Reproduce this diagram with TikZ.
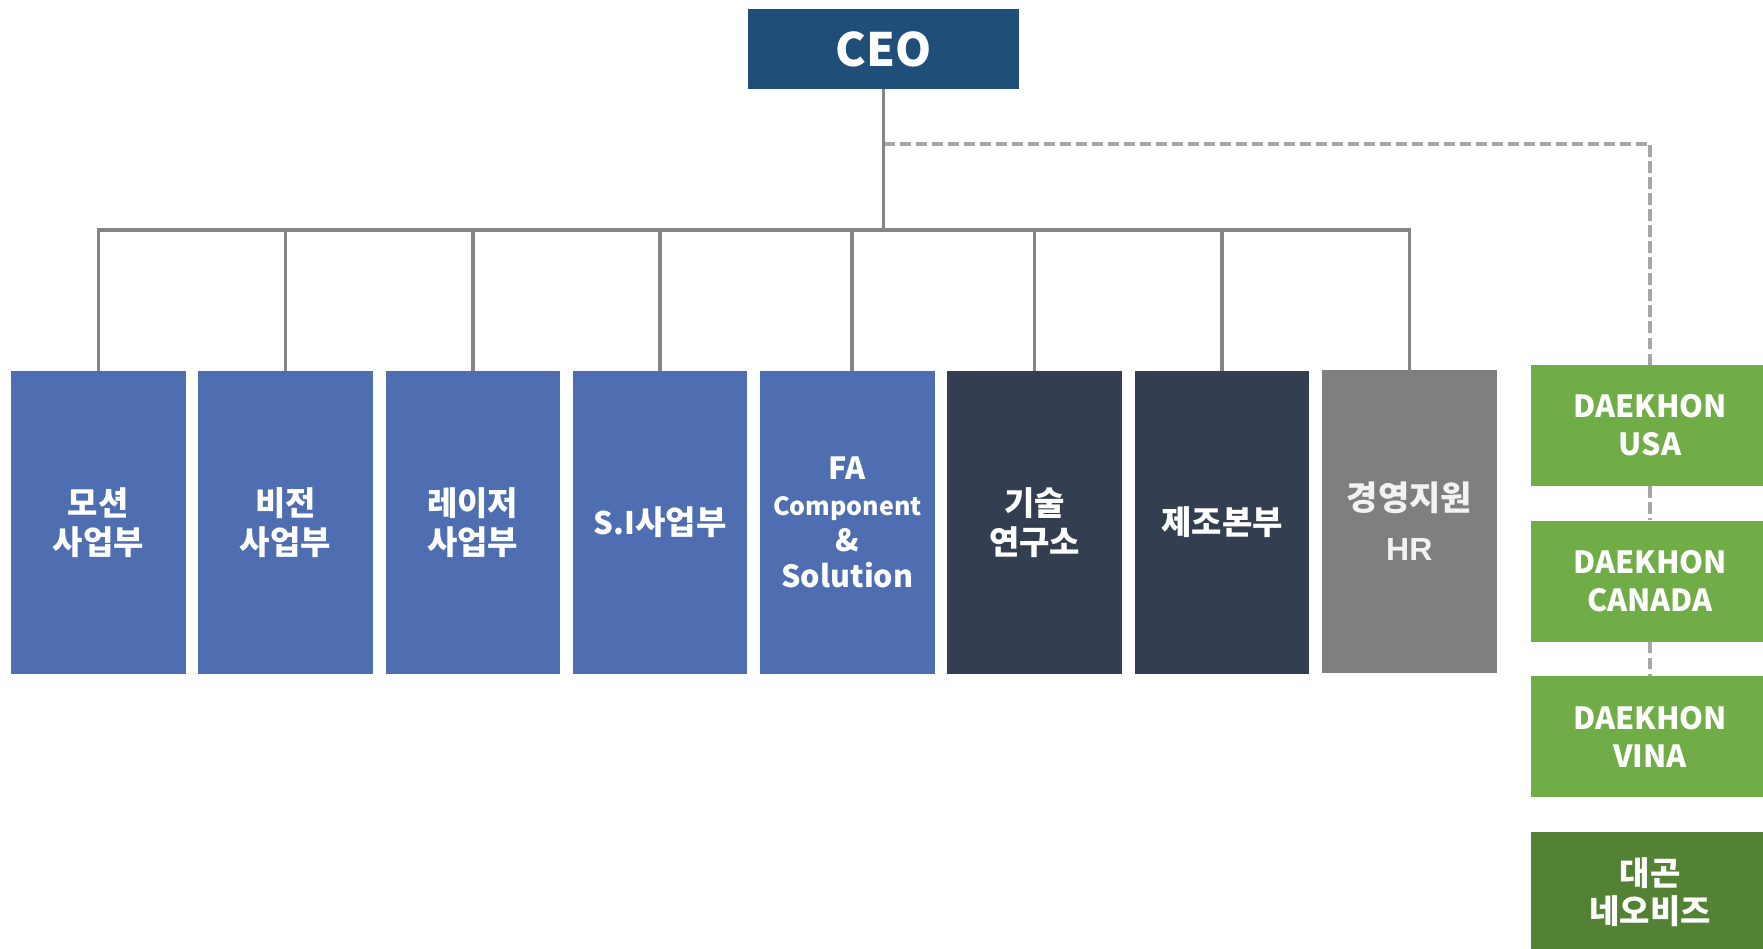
\documentclass[tikz,border=0pt]{standalone}
\usepackage{fontspec}
\setmainfont{Noto Sans CJK KR}
\newfontfamily\arialb{Liberation Sans Bold}
\definecolor{ceoc}{HTML}{1F4E79}
\definecolor{bluec}{HTML}{4E6EB1}
\definecolor{darkc}{HTML}{333F50}
\definecolor{grayc}{HTML}{7F7F7F}
\definecolor{greenc}{HTML}{70AD47}
\definecolor{dgreenc}{HTML}{548235}
\definecolor{linec}{HTML}{858585}
\definecolor{dashc}{HTML}{A6A6A6}
\definecolor{offwhite}{HTML}{F2F2F2}
\begin{document}
\begin{tikzpicture}[x=1pt,y=-1pt,
  box/.style={rectangle, inner sep=0pt, text=white, align=center},
  dept/.style={box, minimum width=174.5pt, minimum height=303pt, font=\bfseries\fontsize{33}{39}\selectfont},
  sub/.style={box, minimum width=238pt, minimum height=121pt, font=\bfseries\fontsize{30.5}{38}\selectfont},
  conn/.style={draw=linec, line width=3.5pt},
  dconn/.style={draw=dashc, line width=3.5pt, dash pattern=on 11.5pt off 4.5pt}]
\useasboundingbox (0,0) rectangle (1763,949);
\clip (0,0) rectangle (1763,949);
\fill[white] (0,0) rectangle (1763,949);
% CEO
\node[box, fill=ceoc, minimum width=271pt, minimum height=80pt, font=\bfseries\fontsize{46}{50}\selectfont] (ceo) at (883.5,49) {CEO};
% departments
\node[dept, fill=bluec] (d1) at (98.25,522.5) {모션\\사업부};
\node[dept, fill=bluec] (d2) at (285.5,522.5) {비전\\사업부};
\node[dept, fill=bluec] (d3) at (472.8,522.5) {레이저\\사업부};
\node[dept, fill=bluec] (d4) at (660.1,522.5) {{\fontsize{31}{39}\selectfont S.I}사업부};
\node[dept, fill=bluec, font=\bfseries\fontsize{30.5}{36}\selectfont] (d5) at (847.4,522.5) {FA\\{\fontsize{25}{36}\selectfont Component}\\\&\\Solution};
\node[dept, fill=darkc] (d6) at (1034.7,522.5) {기술\\연구소};
\node[dept, fill=darkc] (d7) at (1222,522.5) {제조본부};
\node[dept, fill=grayc, text=offwhite, font=\bfseries\fontsize{34}{50}\selectfont] (d8) at (1409.3,521.5) {경영지원\\{\arialb\fontsize{32}{50}\selectfont HR}};
% subsidiaries
\node[sub, fill=greenc] (g1) at (1650,425.5) {DAEKHON\\USA};
\node[sub, fill=greenc] (g2) at (1650,581) {DAEKHON\\CANADA};
\node[sub, fill=greenc] (g3) at (1650,736.5) {DAEKHON\\VINA};
\node[sub, fill=dgreenc, font=\bfseries\fontsize{33}{38}\selectfont] (g4) at (1650,892.5) {대곤\\네오비즈};
% connectors
\coordinate (bus) at (883.5,230);
\coordinate (dstart) at (883.5,144);
\draw[dconn] (dstart) -| (g1.north);
\draw[dconn] (g1.south) -- (g2.north);
\draw[dconn] (g2.south) -- (g3.north);
\draw[conn] (ceo.south) -- (bus);
\foreach \b in {d1,d2,d3,d4,d6,d7,d8} {\draw[conn] (\b.north) |- (bus);}
\draw[conn] ([xshift=4.5pt]d5.north) |- (bus);
\end{tikzpicture}
\end{document}
